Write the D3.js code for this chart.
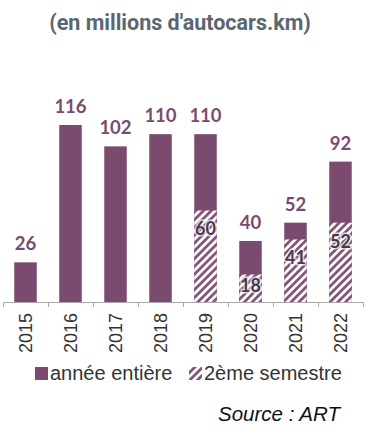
<!DOCTYPE html>
<meta charset="utf-8">
<style>
    body { margin: 0; background: #fff; }
    .axis line, .axis path { stroke: #aaa; }
</style>
<body>
<svg id="chart" width="384" height="435"></svg>
</body>
<script src="https://d3js.org/d3.v7.min.js"></script>
<script>

    var years = ["2015", "2016", "2017", "2018", "2019", "2020", "2021", "2022"];
    var anneeEntiere = [26, 116, 102, 110, 110, 40, 52, 92];
    var deuxiemeSemestre = [null, null, null, null, 60, 18, 41, 52];
    var legendLabels = ["année entière", "2ème semestre"];

    var purple = "#7b4b6f";
    var svg = d3.select("#chart");

    var defs = svg.append("defs");
    var pattern = defs.append("pattern")
        .attr("id", "hatch")
        .attr("patternUnits", "userSpaceOnUse")
        .attr("width", 5.5)
        .attr("height", 5.5)
        .attr("patternTransform", "rotate(45)");
    pattern.append("rect").attr("width", 5.5).attr("height", 5.5).attr("fill", "#fff");
    pattern.append("rect").attr("width", 2.8).attr("height", 5.5).attr("fill", "#835677");

    // title
    svg.append("text")
        .attr("x", 180).attr("y", 30)
        .attr("text-anchor", "middle")
        .style("font-family", "Roboto")
        .style("font-weight", "bold")
        .style("font-size", "21.5px")
        .style("fill", "#5b6670")
        .text("(en millions d'autocars.km)");

    var x = d3.scaleBand()
        .domain(years)
        .range([3, 363])
        .paddingInner(0.5)
        .paddingOuter(0.25);

    var y = d3.scaleLinear()
        .domain([0, 116])
        .range([302, 125]);

    // full year bars
    svg.selectAll(".bar")
        .data(years)
        .enter().append("rect")
        .attr("class", "bar")
        .attr("x", function (d) { return x(d); })
        .attr("width", x.bandwidth())
        .attr("y", function (d, i) { return y(anneeEntiere[i]); })
        .attr("height", function (d, i) { return y(0) - y(anneeEntiere[i]); })
        .attr("fill", purple);

    // second half, hatched
    var sem = years.map(function (d, i) { return {year: d, v: deuxiemeSemestre[i]}; })
        .filter(function (d) { return d.v != null; });

    svg.selectAll(".sem")
        .data(sem)
        .enter().append("rect")
        .attr("class", "sem")
        .attr("x", function (d) { return x(d.year); })
        .attr("width", x.bandwidth())
        .attr("y", function (d) { return y(d.v); })
        .attr("height", function (d) { return y(0) - y(d.v); })
        .attr("fill", "url(#hatch)");

    // axis
    var axisG = svg.append("g").attr("class", "axis");
    axisG.append("line")
        .attr("x1", 3).attr("x2", 363)
        .attr("y1", y(0) + 0.5).attr("y2", y(0) + 0.5);
    var ticks = years.map(function (d) { return x(d) + x.bandwidth() / 2 - x.step() / 2; });
    ticks.push(x(years[years.length - 1]) + x.bandwidth() / 2 + x.step() / 2);
    axisG.selectAll(".tick")
        .data(ticks)
        .enter().append("line")
        .attr("x1", function (d) { return Math.round(d) + 0.5; })
        .attr("x2", function (d) { return Math.round(d) + 0.5; })
        .attr("y1", y(0)).attr("y2", y(0) + 5);

    // year labels
    svg.selectAll(".year")
        .data(years)
        .enter().append("text")
        .attr("class", "year")
        .attr("transform", function (d) {
            return "translate(" + (x(d) + x.bandwidth() / 2 + 6.5) + "," + 313 + ") rotate(-90)";
        })
        .attr("text-anchor", "end")
        .style("font-family", "Liberation Sans, Arial")
        .style("font-size", "18px")
        .style("fill", "#333")
        .text(function (d) { return d; });

    // total labels
    svg.selectAll(".total")
        .data(years)
        .enter().append("text")
        .attr("x", function (d) { return x(d) + x.bandwidth() / 2; })
        .attr("y", function (d, i) { return y(anneeEntiere[i]) - 12; })
        .attr("text-anchor", "middle")
        .style("font-family", "Lato")
        .style("font-weight", "bold")
        .style("font-size", "18.5px")
        .style("fill", purple)
        .text(function (d, i) { return anneeEntiere[i]; });

    // semester labels
    svg.selectAll(".semlab")
        .data(sem)
        .enter().append("text")
        .attr("x", function (d) { return x(d.year) + x.bandwidth() / 2; })
        .attr("y", function (d) { return Math.min(y(d.v) + 25, y(0) - 10); })
        .attr("text-anchor", "middle")
        .style("font-family", "Lato")
        .style("font-weight", "bold")
        .style("font-size", "18px")
        .style("fill", "#4a3a48")
        .style("stroke", "rgba(255,255,255,0.7)")
        .style("stroke-width", 3)
        .style("paint-order", "stroke")
        .text(function (d) { return d.v; });

    // legend
    var legend = svg.append("g");
    legend.append("rect").attr("x", 35).attr("y", 367).attr("width", 13).attr("height", 13).attr("fill", purple);
    legend.append("text").attr("x", 50).attr("y", 380)
        .style("font-family", "Liberation Sans, Arial").style("font-size", "20px").style("fill", "#333")
        .text(legendLabels[0]);
    legend.append("rect").attr("x", 189).attr("y", 367).attr("width", 13).attr("height", 13).attr("fill", "url(#hatch)");
    legend.append("text").attr("x", 204).attr("y", 380)
        .style("font-family", "Liberation Sans, Arial").style("font-size", "20px").style("fill", "#333")
        .text(legendLabels[1]);

    // source
    svg.append("text")
        .attr("x", 218).attr("y", 421)
        .style("font-family", "Liberation Sans, Arial")
        .style("font-style", "italic")
        .style("font-size", "20.5px")
        .style("fill", "#111")
        .text("Source : ART");

</script>
